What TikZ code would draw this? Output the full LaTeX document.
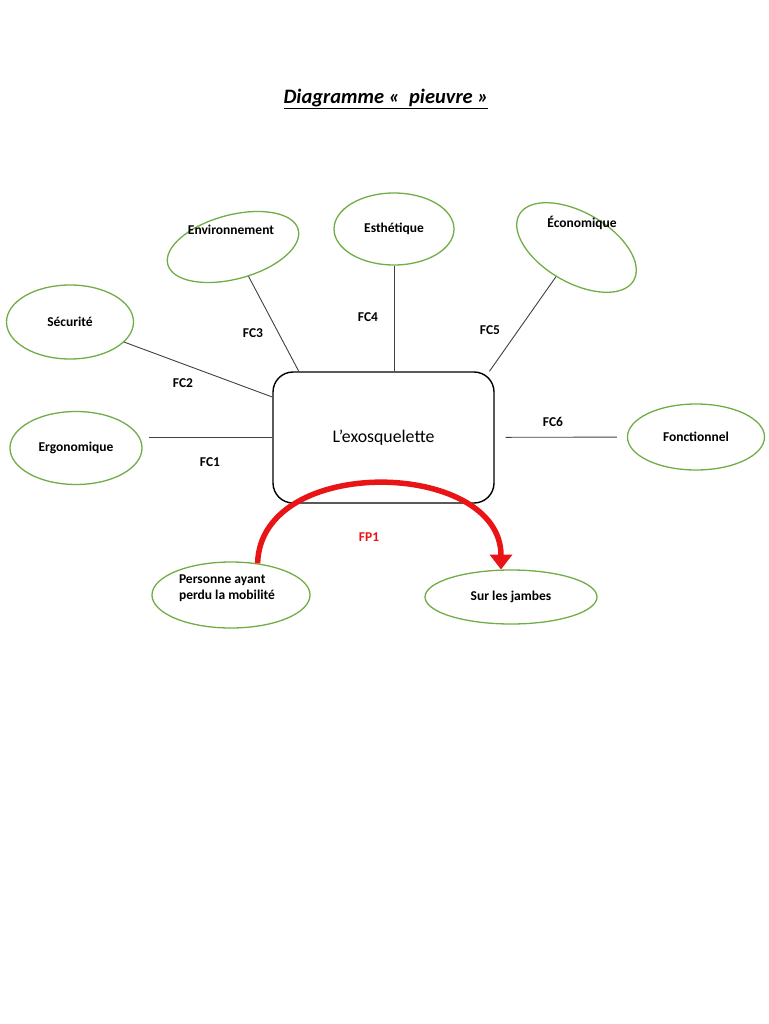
\documentclass[tikz,border=0pt]{standalone}
\usepackage{fontspec}
\setmainfont{Carlito}
\usetikzlibrary{shapes.geometric,arrows.meta}
\definecolor{vertfc}{RGB}{112,173,71}
\definecolor{rougefp}{RGB}{232,20,22}
\begin{document}
\begin{tikzpicture}[x=1pt, y=-1pt,
		fonction/.style={ellipse, draw=vertfc, line width=1.3pt, inner sep=0pt, font=\bfseries\fontsize{13.5}{16}\selectfont},
		liaison/.style={draw=black!75, line width=0.9pt},
		etiquette/.style={font=\bfseries\fontsize{13.5}{16}\selectfont}]
			\useasboundingbox (0,0) rectangle (768,1024);
			\node[font=\bfseries\itshape\fontsize{20.5}{24}\selectfont] (titre) at (386,99) {\underline{Diagramme «~~pieuvre~»}};
			\node[draw, line width=1.4pt, rounded corners=20pt, minimum width=221pt, minimum height=131pt, font=\fontsize{17.8}{21}\selectfont] (exo) at (383.5,437.5) {L’exosquelette};
			% fonctions contraintes
			\node[fonction, minimum width=132pt, minimum height=73pt] (ergo) at (76,448) {Ergonomique};
			\node[fonction, minimum width=127pt, minimum height=74pt] (secu) at (70,322) {Sécurité};
			\node[fonction, minimum width=135pt, minimum height=64pt, rotate=15] (env) at (233,247) {};
			\node[etiquette] (tenv) at (231,230) {Environnement};
			\node[fonction, minimum width=120pt, minimum height=72pt] (esth) at (394,229) {Esthétique};
			\node[fonction, minimum width=132pt, minimum height=70pt, rotate=-30] (eco) at (576.5,247.5) {};
			\node[etiquette] (teco) at (582,223) {Économique};
			\node[fonction, minimum width=137pt, minimum height=66pt] (fonc) at (696,437) {Fonctionnel};
			% fonction principale
			\node[fonction, minimum width=158pt, minimum height=66pt] (pers) at (231,595) {};
			\node[etiquette, align=left] (tpers) at (227,588) {Personne ayant\\perdu la mobilité};
			\node[fonction, minimum width=172pt, minimum height=54pt] (jambes) at (511,597) {Sur les jambes};
			% liaisons
			\draw[liaison, shorten <=6pt] (ergo.east |- exo.west) -- (exo.west);
			\draw[liaison] (secu) -- (exo.160);
			\draw[liaison] (env) -- (exo.142);
			\draw[liaison] (esth) -- (esth |- exo.north);
			\draw[liaison] (eco) -- (exo.32);
			\draw[liaison, shorten <=11pt, shorten >=10pt] (exo) -- (fonc);
			\node[etiquette] (fc1) at (210,462) {FC1};
			\node[etiquette] (fc2) at (183,383) {FC2};
			\node[etiquette] (fc3) at (253,333) {FC3};
			\node[etiquette] (fc4) at (368,317) {FC4};
			\node[etiquette] (fc5) at (490,330) {FC5};
			\node[etiquette] (fc6) at (553,422) {FC6};
			\draw[rougefp, line width=5.5pt, -{Triangle[width=22pt,length=15pt]}] (pers.50) .. controls +(3,-110) and +(0,-110) .. (jambes.110);
			\node[etiquette, text=rougefp] (fp1) at (369,537) {FP1};
		\end{tikzpicture}
\end{document}
